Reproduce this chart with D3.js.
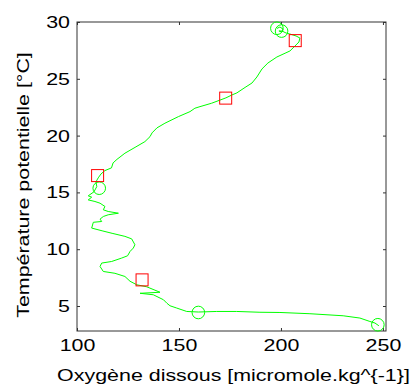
<!DOCTYPE html>
<html>
<head>
<meta charset="utf-8">
<script src="https://cdn.jsdelivr.net/npm/d3@7"></script>
<style>
  html, body { margin: 0; padding: 0; background: #fff; }
  svg { display: block; }
  text { font-family: "Liberation Sans", Arial, sans-serif; fill: #000; }
</style>
</head>
<body>
<svg id="chart" width="412" height="392"></svg>
<script>
// profile: dissolved oxygen vs potential temperature, surface -> deep
const oxygen = [198.0, 199.5, 201.0, 200.5, 199.0, 200.5, 202.5, 204.4, 207.4, 209.3, 208.8, 207.4, 204.4,
  202.0, 198.0, 193.6, 190.7, 188.2, 185.8, 182.4, 178.4, 176.0, 173.0, 166.0, 160.3, 157.8, 155.4, 149.7,
  143.1, 139.2, 136.8, 135.8, 133.3, 128.9, 123.5, 119.6, 117.7, 116.9, 113.7, 111.8, 110.4, 109.3, 109.7,
  108.3, 105.5, 107.2, 105.5, 108.8, 111.3, 113.7, 112.9, 115.3, 120.3, 115.3, 112.9, 111.3, 112.1, 108.0,
  107.2, 112.3, 117.2, 123.5, 126.8, 128.4, 127.6, 126.0, 124.8, 121.9, 117.0, 112.1, 111.3, 112.9, 118.6,
  123.5, 126.0, 129.3, 134.2, 140.7, 130.9, 137.4, 140.7, 142.4, 144.1, 145.6, 148.9, 153.8, 159.5, 168.5,
  178.3, 189.7, 199.5, 214.2, 230.5, 238.7, 243.6, 246.1, 248.0];
const temperature = [29.43, 29.56, 29.38, 29.12, 29.21, 29.21, 29.03, 28.94, 28.77, 28.59, 28.24, 27.98, 27.45,
  27.25, 26.92, 26.39, 25.87, 25.16, 24.63, 24.24, 23.76, 23.58, 23.32, 22.85, 22.55, 22.41, 22.11, 21.67,
  21.09, 20.68, 20.24, 19.91, 19.47, 19.01, 18.45, 17.91, 17.60, 17.16, 16.92, 16.63, 16.28, 15.93, 15.51,
  15.05, 14.70, 14.58, 14.34, 14.20, 14.05, 13.76, 13.47, 13.32, 13.17, 13.03, 12.88, 12.65, 12.44, 12.37,
  11.86, 11.62, 11.40, 11.13, 10.91, 10.39, 10.10, 9.80, 9.42, 9.22, 8.92, 8.78, 8.48, 8.04, 7.88,
  7.60, 7.18, 6.87, 6.69, 6.21, 6.12, 5.99, 5.70, 5.55, 5.24, 5.02, 4.82, 4.52, 4.47, 4.52,
  4.52, 4.45, 4.43, 4.32, 4.14, 3.94, 3.64, 3.50, 3.26];

const circleOxygen = [198.0, 200.3, 110.9, 159.5, 247.5];
const circleTemperature = [29.45, 29.2, 15.37, 4.43, 3.35];
const squareOxygen = [207.0, 172.9, 110.1, 131.9];
const squareTemperature = [28.36, 23.3, 16.48, 7.3];

const xTicks = [100, 150, 200, 250];
const yTicks = [5, 10, 15, 20, 25, 30];
const xLabel = "Oxygène dissous [micromole.kg^{-1}]";
const yLabel = "Température potentielle [°C]";

const margin = { left: 77, top: 22, right: 26, bottom: 61 };
const width = 412, height = 392;
const innerW = width - margin.left - margin.right;
const innerH = height - margin.top - margin.bottom;

// the figure's text is drawn wide, so stretch glyphs along the baseline
const stretch = 1.26;

const svg = d3.select("#chart");
const g = svg.append("g").attr("transform", `translate(${margin.left},${margin.top})`);

const x = d3.scaleLinear().domain([100, 251.5]).range([0, innerW]);
const y = d3.scaleLinear().domain([2.8, 30]).range([innerH, 0]);

const axisColor = "#333";
const tickLen = 3;

const styleAxis = (sel) => {
  sel.select(".domain").remove();
  sel.selectAll(".tick line").attr("stroke", axisColor);
  sel.selectAll(".tick text").style("font-size", "17px").attr("fill", "#000");
};

// inward ticks on all four sides (box)
const bottomAxis = g.append("g").attr("transform", `translate(0,${innerH})`)
  .call(d3.axisBottom(x).tickValues(xTicks).tickSize(-tickLen).tickPadding(8))
  .call(styleAxis);
bottomAxis.selectAll(".tick text").attr("transform", `scale(${stretch},1)`);

g.append("g")
  .call(d3.axisTop(x).tickValues(xTicks).tickSize(-tickLen).tickFormat(""))
  .call(styleAxis);

const leftAxis = g.append("g")
  .call(d3.axisLeft(y).tickValues(yTicks).tickSize(-tickLen).tickPadding(7))
  .call(styleAxis);
leftAxis.selectAll(".tick text")
  .attr("x", -7 / stretch)
  .attr("transform", `scale(${stretch},1)`);

g.append("g").attr("transform", `translate(${innerW},0)`)
  .call(d3.axisRight(y).tickValues(yTicks).tickSize(-tickLen).tickFormat(""))
  .call(styleAxis);

g.append("rect")
  .attr("x", 0).attr("y", 0).attr("width", innerW).attr("height", innerH)
  .attr("fill", "none").attr("stroke", axisColor).attr("stroke-width", 1);

const points = oxygen.map((o, i) => [o, temperature[i]]);
const line = d3.line().x((d) => x(d[0])).y((d) => y(d[1]));

g.append("path")
  .datum(points)
  .attr("d", line)
  .attr("fill", "none")
  .attr("stroke", "#00ff00")
  .attr("stroke-width", 1)
  .attr("stroke-linejoin", "round");

g.selectAll(".mk-circle")
  .data(circleOxygen.map((o, i) => [o, circleTemperature[i]]))
  .enter()
  .append("circle")
  .attr("class", "mk-circle")
  .attr("cx", (d) => x(d[0]))
  .attr("cy", (d) => y(d[1]))
  .attr("r", 6.3)
  .attr("fill", "none")
  .attr("stroke", "#00ff00")
  .attr("stroke-width", 1);

const sq = 12;
g.selectAll(".mk-square")
  .data(squareOxygen.map((o, i) => [o, squareTemperature[i]]))
  .enter()
  .append("rect")
  .attr("class", "mk-square")
  .attr("x", (d) => x(d[0]) - sq / 2)
  .attr("y", (d) => y(d[1]) - sq / 2)
  .attr("width", sq)
  .attr("height", sq)
  .attr("fill", "none")
  .attr("stroke", "#ff0000")
  .attr("stroke-width", 1);

svg.append("text")
  .attr("transform", `translate(${margin.left + innerW / 2 + 2},381) scale(${stretch},1)`)
  .attr("text-anchor", "middle")
  .style("font-size", "17px")
  .text(xLabel);

svg.append("text")
  .attr("transform", `translate(29,185) rotate(-90) scale(${stretch},1)`)
  .attr("text-anchor", "middle")
  .style("font-size", "17px")
  .text(yLabel);
</script>
</body>
</html>
